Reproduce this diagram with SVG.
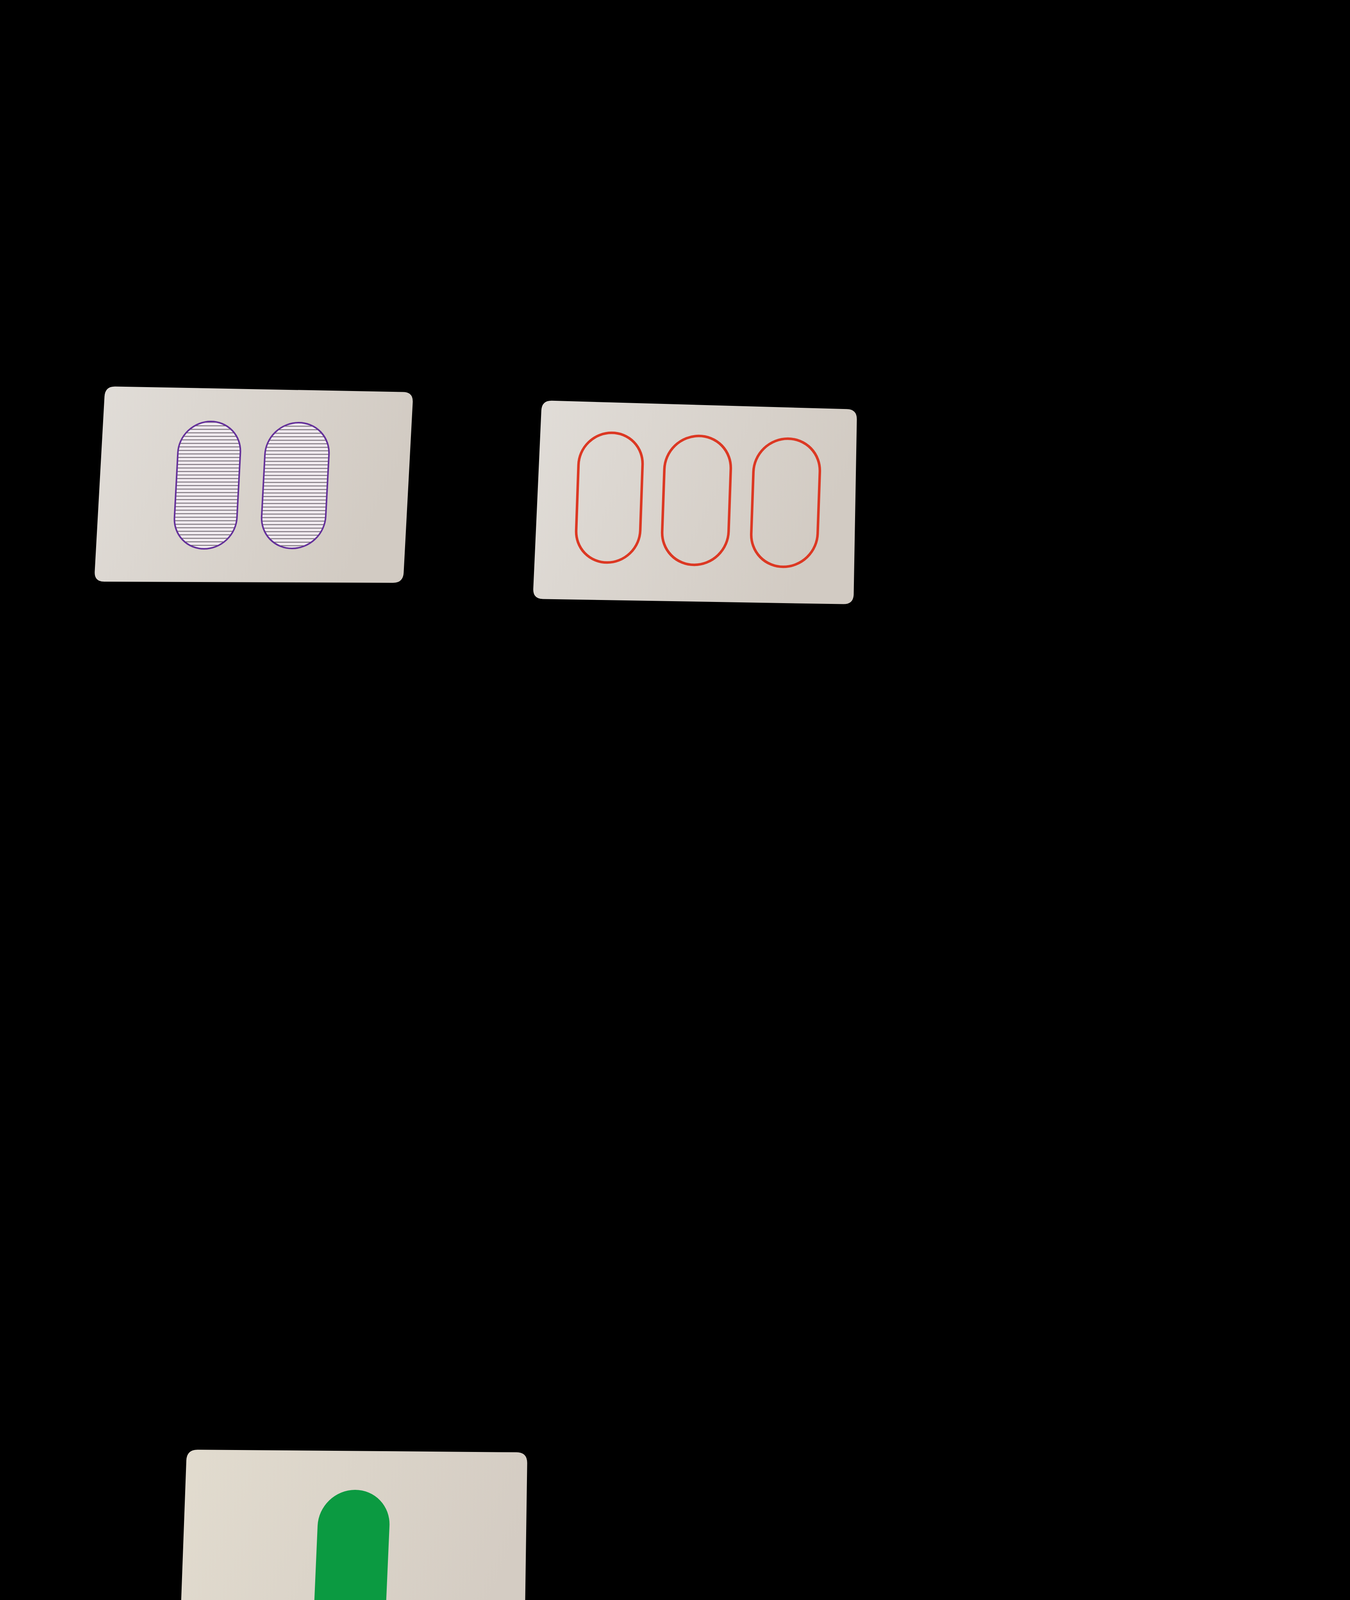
<svg xmlns="http://www.w3.org/2000/svg" width="3456" height="4608" viewBox="0 0 3456 4608">
<defs>
<linearGradient id="cardGrad" x1="0" y1="0" x2="1" y2="0.3">
<stop offset="0" stop-color="#e1ddd8"/>
<stop offset="1" stop-color="#d2cbc3"/>
</linearGradient>
<linearGradient id="cardGrad3" x1="0" y1="0" x2="1" y2="0.3">
<stop offset="0" stop-color="#e2dccf"/>
<stop offset="1" stop-color="#d4ccc3"/>
</linearGradient>
<pattern id="hatch" patternUnits="userSpaceOnUse" width="20" height="9">
<rect width="20" height="9" fill="#efe9ee"/>
<rect y="0" width="20" height="2" fill="#6f6670"/>
</pattern>
<style>
.card{stroke:none}
.purple{fill:url(#hatch);stroke:#64309a;stroke-width:4}
.red{fill:none;stroke:#dc3823;stroke-width:6.5}
.green{fill:#0b9a41;stroke:none}
</style>
</defs>
<rect x="0" y="0" width="3456" height="4608" fill="#000"/>
<g id="card-purple-two">
<path class="card" fill="url(#cardGrad)" d="M295,989.5 L1032,1003.5 Q1058,1004 1056.6,1030 L1033.4,1466 Q1032,1492 1006,1492 L267,1489 Q241,1489 242.5,1463 L267.5,1015 Q269,989 295,989.5 Z"/>
<g transform="translate(531,1242) skewX(-3)">
<rect class="purple" x="-80" y="-163" width="160" height="326" rx="80" ry="80"/>
</g>
<g transform="translate(756,1243) skewX(-3)">
<rect class="purple" x="-82" y="-161" width="164" height="322" rx="82" ry="82"/>
</g>
</g>
<g id="card-red-three">
<path class="card" fill="url(#cardGrad)" d="M1413,1025.7 L2168,1047.3 Q2194,1048 2193.5,1074 L2185.5,1521 Q2185,1547 2159,1546.6 L1390,1533.4 Q1364,1533 1365.2,1507 L1385.8,1051 Q1387,1025 1413,1025.7 Z"/>
<g transform="translate(1560,1274) skewX(-2)">
<rect class="red" x="-82" y="-166" width="164" height="332" rx="82" ry="82"/>
</g>
<g transform="translate(1783,1281) skewX(-2)">
<rect class="red" x="-85" y="-165" width="170" height="330" rx="85" ry="85"/>
</g>
<g transform="translate(2011,1287) skewX(-2)">
<rect class="red" x="-85" y="-164" width="170" height="328" rx="85" ry="85"/>
</g>
</g>
<g id="card-green-one">
<path class="card" fill="url(#cardGrad3)" d="M506,3711.2 L1322,3717.8 Q1350,3718 1349.6,3746 L1341.4,4310 Q1341,4338 1313,4337.1 L484,4311.9 Q456,4311 457,4283 L477,3739 Q478,3711 506,3711.2 Z"/>
<g transform="translate(900,4022) skewX(-2.5)">
<rect class="green" x="-92" y="-208" width="184" height="416" rx="92" ry="92"/>
</g>
</g>
<g id="connectors"/>
</svg>
